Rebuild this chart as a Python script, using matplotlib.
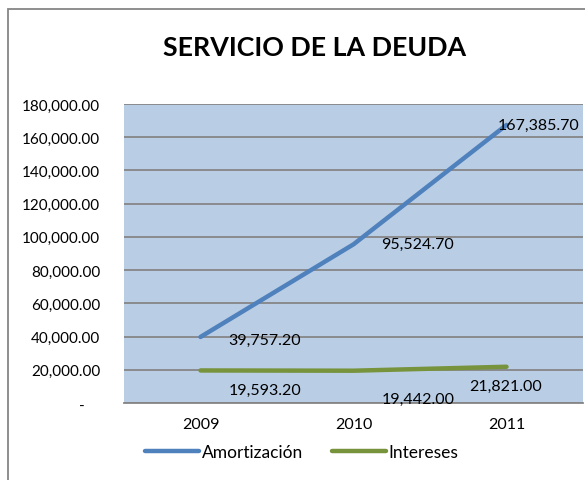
import matplotlib
matplotlib.use("Agg")
import matplotlib.pyplot as plt
from matplotlib.patches import Rectangle
from matplotlib.ticker import FuncFormatter

years = ["2009", "2010", "2011"]
amortizacion = [39757.20, 95524.70, 167385.70]
intereses = [19593.20, 19442.00, 21821.00]
amort_labels = ["39,757.20", "95,524.70", "167,385.70"]
inter_labels = ["19,593.20", "19,442.00", "21,821.00"]
yticks = [0, 20000, 40000, 60000, 80000, 100000, 120000, 140000, 160000, 180000]

plt.rcParams['font.family'] = ['Lato', 'DejaVu Sans']

W, H = 585, 481
fig = plt.figure(figsize=(W/100, H/100), dpi=100)
fig.patch.set_facecolor('white')

# chart border
fig.patches.append(Rectangle((8/W, -0.05), 1.2, 1 - 10/H + 0.05, transform=fig.transFigure,
                             fill=False, edgecolor='#868686', linewidth=1.3))

ax = fig.add_axes([124/W, 1 - 404/H, (583-124)/W, (404-105)/H])
ax.set_facecolor('#B9CDE5')
x = list(range(len(years)))
ax.set_xlim(-0.5, len(years) - 0.5)
ax.set_ylim(0, 180000)
ax.set_yticks(yticks)
ax.yaxis.set_major_formatter(FuncFormatter(lambda v, p: '-    ' if v == 0 else f"{v:,.2f}"))
ax.set_xticks(x)
ax.set_xticklabels(years)
ax.grid(axis='y', color='#868686', linewidth=1.3)
ax.set_axisbelow(True)
for s in ['left', 'right', 'top']:
    ax.spines[s].set_visible(False)
ax.spines['bottom'].set_color('#868686')
ax.spines['bottom'].set_linewidth(1.3)
ax.tick_params(axis='y', length=0, pad=17, labelsize=11)
ax.tick_params(axis='x', length=0, pad=10, labelsize=11.5)

l1, = ax.plot(x, amortizacion, color='#4F81BD', linewidth=3.2, solid_capstyle='round',
              label='Amortización')
l2, = ax.plot(x, intereses, color='#77933C', linewidth=3.2, solid_capstyle='round',
              label='Intereses')

offs_a = [(20, -2), (20, 0), (-6, 0)]
for xi, v, t, o in zip(x, amortizacion, amort_labels, offs_a):
    ax.annotate(t, (xi, v), xytext=o, textcoords='offset points', ha='left', va='center',
                fontsize=11.5, color='black', annotation_clip=False)
offs_i = [(20, -14), (20, -20), (-27, -14)]
for xi, v, t, o in zip(x, intereses, inter_labels, offs_i):
    ax.annotate(t, (xi, v), xytext=o, textcoords='offset points', ha='left', va='center',
                fontsize=11.5, color='black', annotation_clip=False)

fig.text(315/W, 1 - 48/H, 'SERVICIO DE LA DEUDA', ha='center', va='center',
         fontsize=19.3, fontweight='bold')

fig.legend(handles=[l1, l2], loc='center', bbox_to_anchor=(302/W, 1 - 453/H), ncol=2,
           frameon=False, fontsize=12.5, handlelength=3.1, handletextpad=0.15,
           columnspacing=1.7)

fig.savefig('out.png', dpi=100)
